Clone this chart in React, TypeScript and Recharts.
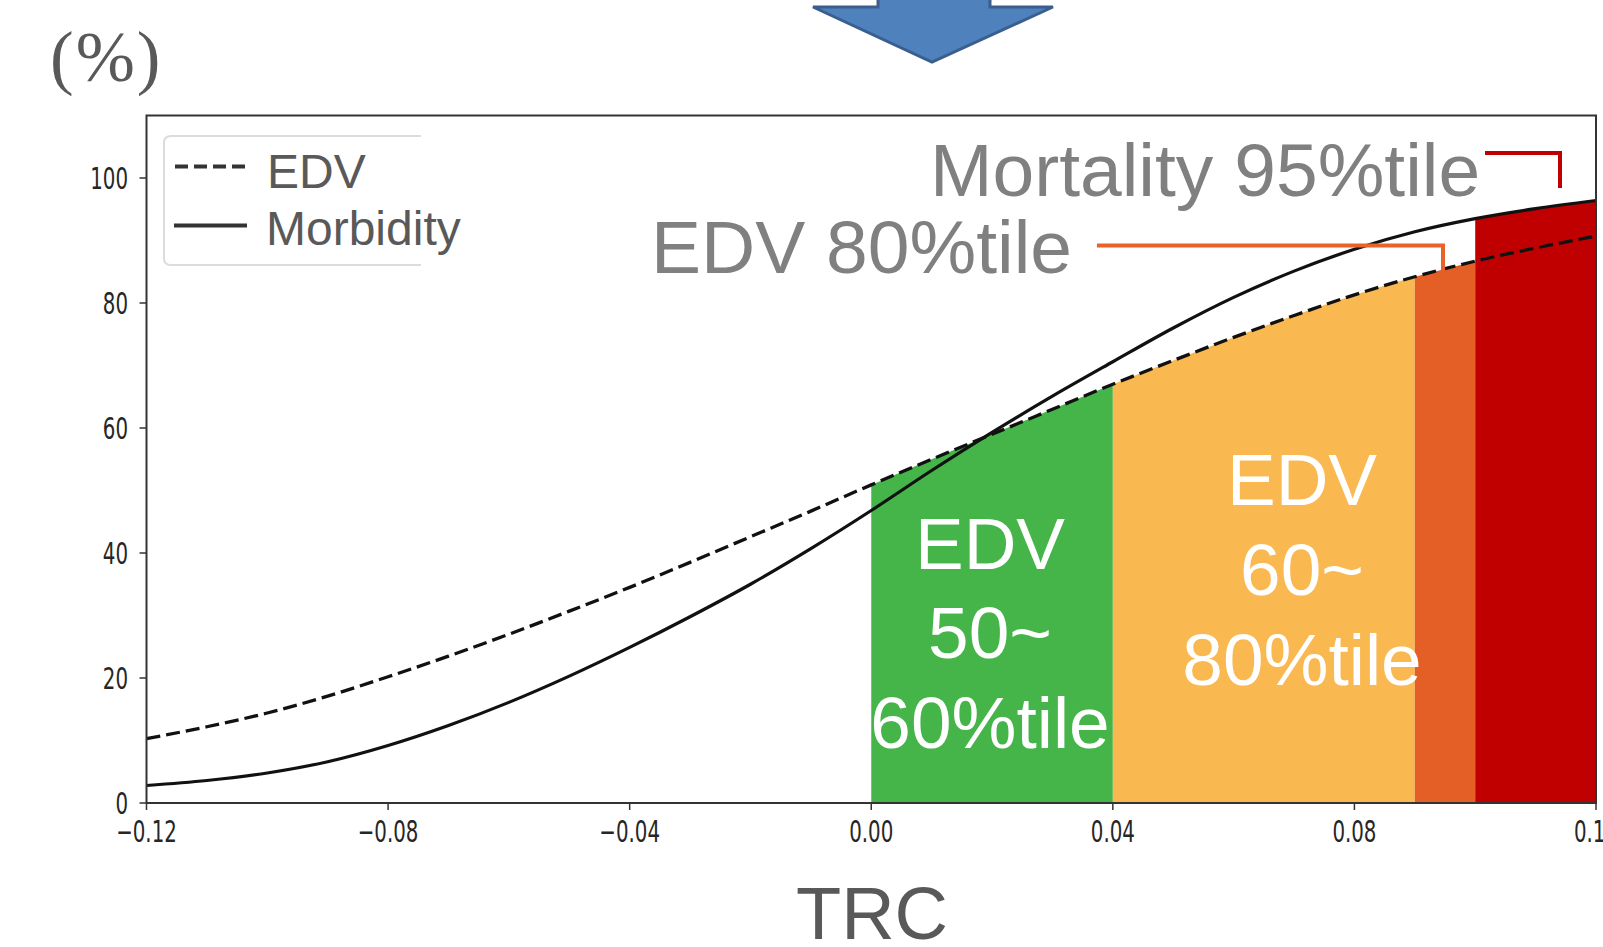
import React from "react";
import { ComposedChart, Area, Line, XAxis, YAxis } from "recharts";

// TRC values on the x axis, step 0.01
const TRC = [
  -0.12, -0.11, -0.1, -0.09, -0.08, -0.07, -0.06, -0.05, -0.04, -0.03, -0.02, -0.01,
  0, 0.01, 0.02, 0.03, 0.04, 0.05, 0.06, 0.07, 0.08, 0.09, 0.1, 0.11, 0.12,
];
// EDV (dashed) in %
const EDV = [
  10.3, 12.2, 14.4, 17.1, 20.2, 23.5, 27.0, 30.7, 34.5, 38.5, 42.6, 46.7,
  50.9, 55.0, 59.0, 63.0, 67.0, 70.8, 74.5, 78.0, 81.3, 84.2, 86.7, 88.8, 90.7,
];
// Morbidity (solid) in %
const MORBIDITY = [
  2.8, 3.6, 4.8, 6.6, 9.2, 12.4, 16.1, 20.3, 24.9, 29.8, 35.0, 40.7,
  46.8, 53.2, 59.3, 65.1, 70.6, 76.0, 80.9, 85.1, 88.6, 91.4, 93.5, 95.1, 96.4,
];
const X_TICKS = [-0.12, -0.08, -0.04, 0, 0.04, 0.08, 0.12];
const Y_TICKS = [0, 20, 40, 60, 80, 100];

// percentile bands along TRC
const BAND_50_60 = [0, 0.04];
const BAND_60_80 = [0.04, 0.09];
const BAND_80_95 = [0.09, 0.1];
const BAND_95 = [0.1, 0.12];

const W = 1603;
const H = 947;
const PLOT = { left: 146.5, right: 1596, top: 115.5, bottom: 803 };

const inBand = (x: number, b: number[]) => x >= b[0] - 1e-9 && x <= b[1] + 1e-9;

const data = TRC.map((x, i) => ({
  x,
  edv: EDV[i],
  morbidity: MORBIDITY[i],
  green: inBand(x, BAND_50_60) ? EDV[i] : null,
  yellow: inBand(x, BAND_60_80) ? EDV[i] : null,
  orange: inBand(x, BAND_80_95) ? EDV[i] : null,
  red: inBand(x, BAND_95) ? MORBIDITY[i] : null,
}));

const fmtX = (v: number) =>
  (v < -1e-9 ? "\u2212" : "") + Math.abs(v).toFixed(2);

const tickFont = { fontFamily: "DejaVu Sans", fontSize: 30, fill: "#262626" };

function XTick(props: any) {
  const { x, y, payload } = props;
  return (
    <g transform={`translate(${x},${y})`}>
      <text transform="scale(0.66,1)" textAnchor="middle" y={30} {...tickFont}>
        {fmtX(payload.value)}
      </text>
    </g>
  );
}

function YTick(props: any) {
  const { x, y, payload } = props;
  return (
    <g transform={`translate(${x},${y})`}>
      <text transform="scale(0.66,1)" textAnchor="end" y={11} {...tickFont}>
        {payload.value}
      </text>
    </g>
  );
}

const sans = "Liberation Sans, Arial, sans-serif";

function Overlay() {
  return (
    <svg
      width={W}
      height={H}
      style={{ position: "absolute", left: 0, top: 0, pointerEvents: "none" }}
    >
      {/* arrow from the previous step */}
      <polygon
        points="878,-10 990,-10 990,7 1053,7 932,62 813,7 878,7"
        fill="#4F81BD"
        stroke="#3A5F8E"
        strokeWidth={3}
      />
      <text
        x={50}
        y={81}
        fontFamily="Liberation Serif, Times New Roman, serif"
        fontSize={71}
        letterSpacing={2}
        fill="#595959"
      >
        (%)
      </text>

      {/* frame */}
      <rect
        x={PLOT.left}
        y={PLOT.top}
        width={PLOT.right - PLOT.left}
        height={PLOT.bottom - PLOT.top}
        fill="none"
        stroke="#333"
        strokeWidth={2}
      />

      {/* legend */}
      <path
        d="M 421 136 H 171 Q 164 136 164 143 V 258 Q 164 265 171 265 H 421"
        fill="none"
        stroke="#dcdcdc"
        strokeWidth={2}
      />
      <line x1={175} y1={166.5} x2={245} y2={166.5} stroke="#333" strokeWidth={4} strokeDasharray="13 6" />
      <line x1={174} y1={225.5} x2={247} y2={225.5} stroke="#333" strokeWidth={4} />
      <text x={267} y={188} fontFamily={sans} fontSize={48} fill="#595959">EDV</text>
      <text x={266} y={245} fontFamily={sans} fontSize={48} fill="#595959">Morbidity</text>

      {/* annotations */}
      <text x={930} y={196} fontFamily={sans} fontSize={75} fill="#808080">Mortality 95%tile</text>
      <text x={651} y={273} fontFamily={sans} fontSize={75} fill="#808080">EDV 80%tile</text>
      <polyline points="1097,245.5 1443,245.5 1443,271" fill="none" stroke="#E8622A" strokeWidth={4} />
      <polyline points="1485,153 1560,153 1560,188" fill="none" stroke="#C00000" strokeWidth={4} />

      <g fontFamily={sans} fontSize={73} fill="#ffffff" textAnchor="middle">
        <text x={990} y={569}>EDV</text>
        <text x={990} y={658}>50~</text>
        <text x={990} y={748}>60%tile</text>
        <text x={1302} y={505}>EDV</text>
        <text x={1302} y={595}>60~</text>
        <text x={1302} y={685}>80%tile</text>
      </g>

      <text x={872} y={939} fontFamily={sans} fontSize={74} fill="#595959" textAnchor="middle">
        TRC
      </text>
    </svg>
  );
}

export default function App() {
  const yAxisWidth = 60;
  const xAxisHeight = 60;
  return (
    <div
      style={{
        position: "absolute",
        left: 0,
        top: 0,
        width: W,
        height: H,
        overflow: "hidden",
        background: "#fff",
      }}
    >
      <ComposedChart
        width={W}
        height={H}
        data={data}
        margin={{
          top: PLOT.top,
          right: W - PLOT.right,
          bottom: H - PLOT.bottom - xAxisHeight,
          left: PLOT.left - yAxisWidth,
        }}
      >
        <XAxis
          dataKey="x"
          type="number"
          domain={[-0.12, 0.12]}
          ticks={X_TICKS}
          height={xAxisHeight}
          axisLine={false}
          tickLine={{ stroke: "#333", strokeWidth: 1.5 }}
          tickSize={7}
          tick={<XTick />}
          interval={0}
        />
        <YAxis
          type="number"
          domain={[0, 110]}
          ticks={Y_TICKS}
          width={yAxisWidth}
          axisLine={false}
          tickLine={{ stroke: "#333", strokeWidth: 1.5 }}
          tickSize={7}
          tickMargin={11.5}
          tick={<YTick />}
          interval={0}
        />
        <Area dataKey="green" type="monotone" stroke="none" fill="#45B54A" fillOpacity={1} isAnimationActive={false} />
        <Area dataKey="yellow" type="monotone" stroke="none" fill="#FAB851" fillOpacity={1} isAnimationActive={false} />
        <Area dataKey="orange" type="monotone" stroke="none" fill="#E35F25" fillOpacity={1} isAnimationActive={false} />
        <Area dataKey="red" type="monotone" stroke="none" fill="#C00000" fillOpacity={1} isAnimationActive={false} />
        <Line
          dataKey="edv"
          type="monotone"
          stroke="#111"
          strokeWidth={3.3}
          strokeDasharray="14 6"
          dot={false}
          isAnimationActive={false}
        />
        <Line
          dataKey="morbidity"
          type="monotone"
          stroke="#111"
          strokeWidth={3.2}
          dot={false}
          isAnimationActive={false}
        />
      </ComposedChart>
      <Overlay />
    </div>
  );
}
